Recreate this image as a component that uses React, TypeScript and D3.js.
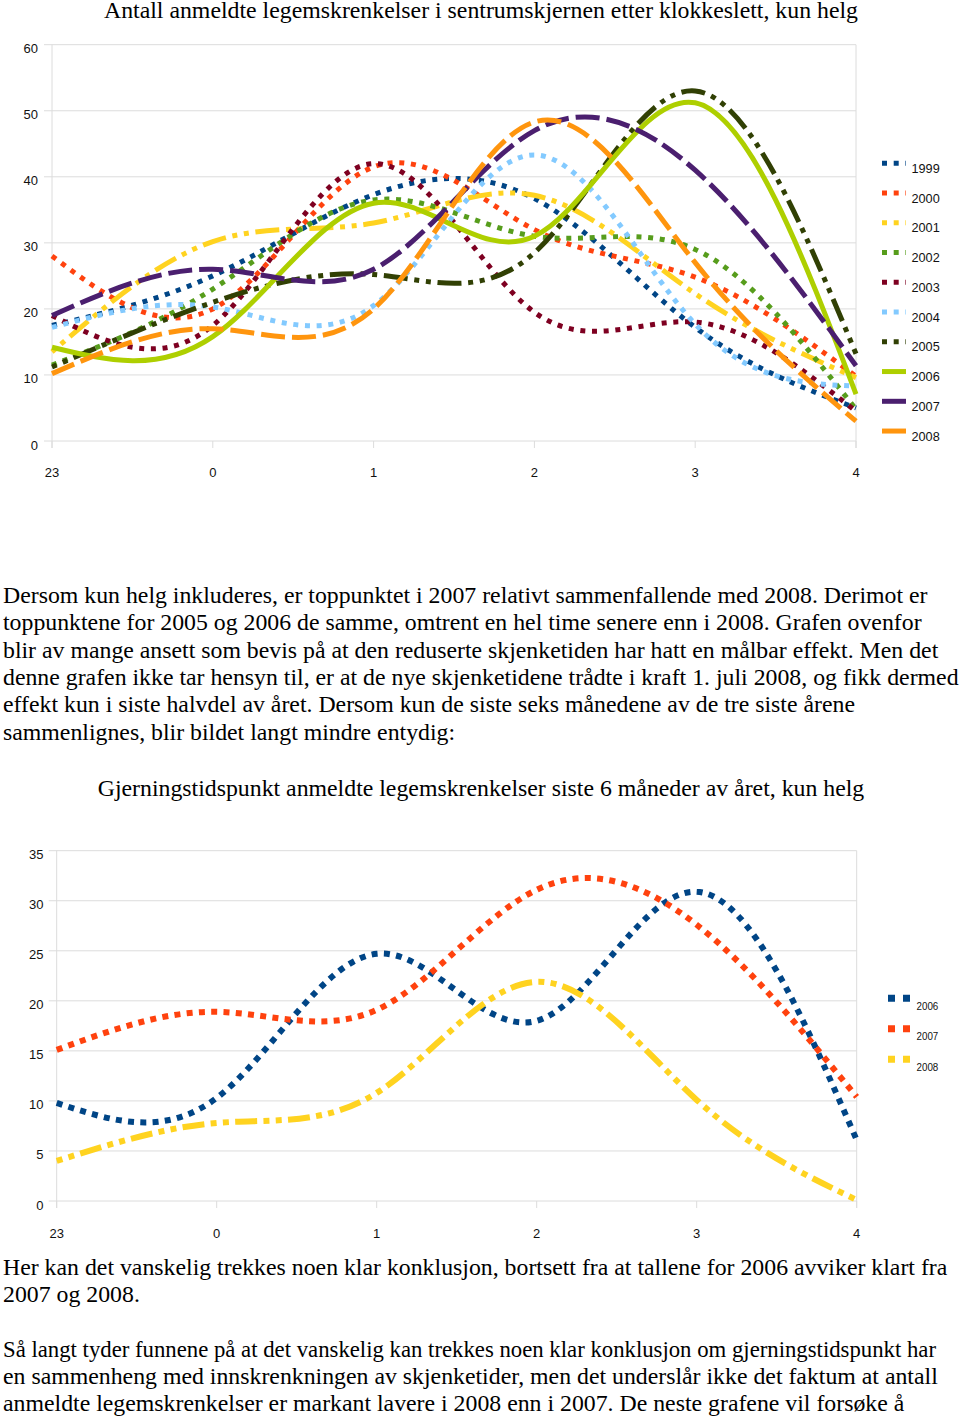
import React from "react";
import * as d3 from "d3";

// ---------- data ----------
const hours = ["23", "0", "1", "2", "3", "4"];

const years1 = ["1999", "2000", "2001", "2002", "2003", "2004", "2005", "2006", "2007", "2008"];
const v1999 = [17.5, 25, 37.3, 36.7, 17.2, 5];
const v2000 = [28, 20, 41.5, 32, 24.8, 9.8];
const v2001 = [13.5, 30.2, 33, 37.2, 22.3, 9.6];
const v2002 = [11.5, 23, 36.5, 31, 29, 4.8];
const v2003 = [19, 17.5, 42, 19.5, 18, 4.5];
const v2004 = [17.2, 20.3, 20.5, 43.3, 17.7, 8.3];
const v2005 = [11.2, 21, 25.2, 28.5, 53, 13.2];
const v2006 = [14.2, 15.8, 36, 31, 51.2, 7.1];
const v2007 = [19, 26, 26, 47, 41, 11.4];
const v2008 = [10.2, 17, 20, 48.3, 27, 3];
const yTicks1 = [0, 10, 20, 30, 40, 50, 60];

const years2 = ["2006", "2007", "2008"];
const h2006 = [9.8, 10.3, 24.7, 18, 30.9, 6.1];
const h2007 = [15.1, 18.9, 19.1, 31.1, 27.6, 10.4];
const h2008 = [4, 7.8, 10.8, 21.9, 10.1, 0.1];
const yTicks2 = [0, 5, 10, 15, 20, 25, 30, 35];

const title1 = "Antall anmeldte legemskrenkelser i sentrumskjernen etter klokkeslett, kun helg";
const title2 = "Gjerningstidspunkt anmeldte legemskrenkelser siste 6 måneder av året, kun helg";

const para1 = [
  "Dersom kun helg inkluderes, er toppunktet i 2007 relativt sammenfallende med 2008. Derimot er",
  "toppunktene for 2005 og 2006 de samme, omtrent en hel time senere enn i 2008. Grafen ovenfor",
  "blir av mange ansett som bevis på at den reduserte skjenketiden har hatt en målbar effekt. Men det",
  "denne grafen ikke tar hensyn til, er at de nye skjenketidene trådte i kraft 1. juli 2008, og fikk dermed",
  "effekt kun i siste halvdel av året. Dersom kun de siste seks månedene av de tre siste årene",
  "sammenlignes, blir bildet langt mindre entydig:",
];
const para2 = [
  "Her kan det vanskelig trekkes noen klar konklusjon, bortsett fra at tallene for 2006 avviker klart fra",
  "2007 og 2008.",
];
const para3 = [
  "Så langt tyder funnene på at det vanskelig kan trekkes noen klar konklusjon om gjerningstidspunkt har",
  "en sammenheng med innskrenkningen av skjenketider, men det underslår ikke det faktum at antall",
  "anmeldte legemskrenkelser er markant lavere i 2008 enn i 2007. De neste grafene vil forsøke å",
];

// ---------- styles ----------
const colors1 = ["#004586", "#ff420e", "#ffd320", "#579d1c", "#7e0021", "#83caff", "#314004", "#aecf00", "#4b1f6f", "#ff950e"];
const DOT = "5,6.7";
const DOTDASH = "5,6.7,5,6.7,24,6.7";
const DASH = "24,7";
const dashes1 = [DOT, DOT, DOTDASH, DOT, DOT, DOT, DOTDASH, "none", DASH, DASH];
const colors2 = ["#004586", "#ff420e", "#ffd320"];
const dashes2 = ["6,6.3", "6,6.3", "6,6.3,6,6.3,22,6.3"];

const GRID = "#dcdcdc";
const SANS = "'Liberation Sans', Arial, sans-serif";
const SERIF = "'Liberation Serif', 'Times New Roman', serif";

type ChartProps = {
  series: number[][];
  names: string[];
  colors: string[];
  dashes: string[];
  yTicks: number[];
  left: number;
  right: number;
  top: number;
  bottom: number;
  lw: number;
  labelRight: number;
  xLabelY: number;
  legend: { x: number; y0: number; dy: number; textX: number; textDy: number; fs: number; lw: number; dash: (i: number) => string; compress?: number };
};

function LineChart(p: ChartProps) {
  const x = d3.scalePoint<string>().domain(hours).range([p.left, p.right]);
  const yMax = p.yTicks[p.yTicks.length - 1];
  const y = d3.scaleLinear().domain([0, yMax]).range([p.bottom, p.top]);
  const line = d3
    .line<number>()
    .x((_, i) => x(hours[i]) as number)
    .y((d) => y(d))
    .curve(d3.curveNatural);
  return (
    <g>
      {p.yTicks.map((t) => (
        <g key={"g" + t}>
          <line x1={p.left - 8} x2={p.right} y1={y(t)} y2={y(t)} stroke={GRID} strokeWidth={1} />
          <text x={p.labelRight} y={y(t) + 8.5} textAnchor="end" fontFamily={SANS} fontSize={13} fill="#111">
            {t}
          </text>
        </g>
      ))}
      <line x1={p.left} x2={p.left} y1={p.top} y2={p.bottom + 7} stroke={GRID} />
      <line x1={p.right} x2={p.right} y1={p.top} y2={p.bottom + 7} stroke={GRID} />
      {hours.map((h) => (
        <g key={"x" + h}>
          <line x1={x(h)} x2={x(h)} y1={p.bottom} y2={p.bottom + 7} stroke={GRID} />
          <text x={x(h)} y={p.xLabelY} textAnchor="middle" fontFamily={SANS} fontSize={13} fill="#111">
            {h}
          </text>
        </g>
      ))}
      {p.series.map((s, i) => (
        <path
          key={"s" + i}
          d={line(s) || ""}
          fill="none"
          stroke={p.colors[i]}
          strokeWidth={p.lw}
          strokeDasharray={p.dashes[i]}
          strokeLinecap="butt"
        />
      ))}
      {p.names.map((n, i) => {
        const ly = p.legend.y0 + i * p.legend.dy;
        return (
          <g key={"l" + n}>
            <line
              x1={p.legend.x}
              x2={p.legend.x + 24}
              y1={ly}
              y2={ly}
              stroke={p.colors[i]}
              strokeWidth={p.legend.lw}
              strokeDasharray={p.legend.dash(i)}
            />
            <text
              x={p.legend.textX}
              y={ly + p.legend.textDy}
              fontFamily={SANS}
              fontSize={p.legend.fs}
              fill="#111"
              textLength={p.legend.compress}
              lengthAdjust={p.legend.compress ? "spacingAndGlyphs" : undefined}
            >
              {n}
            </text>
          </g>
        );
      })}
    </g>
  );
}

function Para({ lines, y0, fs, fit }: { lines: string[]; y0: number; fs: number; fit?: (number | null)[] }) {
  return (
    <g>
      {lines.map((l, i) => {
        const w = fit ? fit[i] : null;
        return (
          <text
            key={i}
            x={3}
            y={y0 + i * 27.35}
            fontFamily={SERIF}
            fontSize={fs}
            fill="#000"
            textLength={w || undefined}
            lengthAdjust={w ? "spacingAndGlyphs" : undefined}
          >
            {l}
          </text>
        );
      })}
    </g>
  );
}

export default function App() {
  const FS = 23.8;
  return (
    <div style={{ position: "absolute", left: 0, top: 0, width: 960, height: 1425, background: "#fff" }}>
      <svg width={960} height={1425} viewBox="0 0 960 1425" style={{ display: "block" }}>
        <rect width={960} height={1425} fill="#fff" />
        <text x={481} y={17.5} textAnchor="middle" fontFamily={SERIF} fontSize={FS} fill="#000">
          {title1}
        </text>
        <LineChart
          series={[v1999, v2000, v2001, v2002, v2003, v2004, v2005, v2006, v2007, v2008]}
          names={years1}
          colors={colors1}
          dashes={dashes1}
          yTicks={yTicks1}
          left={52}
          right={856}
          top={44.7}
          bottom={441}
          lw={5}
          labelRight={38}
          xLabelY={477}
          legend={{
            x: 882,
            y0: 163.3,
            dy: 29.75,
            textX: 911.5,
            textDy: 9.5,
            fs: 12.7,
            lw: 5,
            dash: (i) => (i < 7 ? DOT : "none"),
          }}
        />
        <Para lines={para1} y0={603} fs={FS} />
        <text x={481} y={796} textAnchor="middle" fontFamily={SERIF} fontSize={FS} fill="#000">
          {title2}
        </text>
        <LineChart
          series={[h2006, h2007, h2008]}
          names={years2}
          colors={colors2}
          dashes={dashes2}
          yTicks={yTicks2}
          left={56.7}
          right={856.7}
          top={850.7}
          bottom={1201}
          lw={6}
          labelRight={43.5}
          xLabelY={1237.5}
          legend={{
            x: 888,
            y0: 998.3,
            dy: 30.5,
            textX: 916.5,
            textDy: 11.5,
            fs: 11.5,
            lw: 7,
            dash: () => "7,8",
            compress: 21.8,
          }}
        />
        <Para lines={para2} y0={1275} fs={FS} />
        <Para lines={para3} y0={1356.7} fs={FS} fit={[933, null, null]} />
      </svg>
    </div>
  );
}
